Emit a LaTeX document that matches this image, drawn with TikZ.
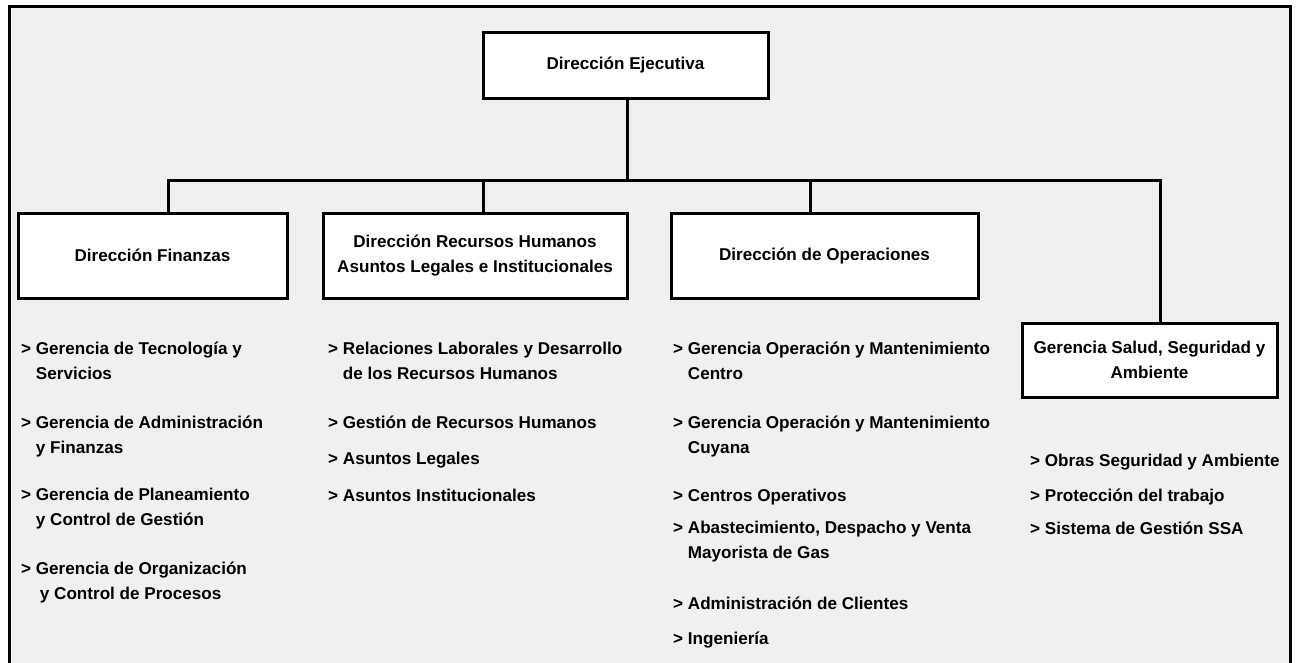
\documentclass[tikz,border=0pt]{standalone}
\usepackage{fontspec}
\setmainfont{Liberation Sans}
\usetikzlibrary{calc}
\definecolor{fondo}{HTML}{F0F0F0}
\newcommand{\sangria}{\hphantom{> }}

\begin{document}
\begin{tikzpicture}[x=1pt,y=-1pt,
  font=\fontsize{17.1}{25}\selectfont\bfseries,
  caja/.style={draw,fill=white,line width=3pt,inner sep=0pt,align=center},
  item/.style={anchor=base west,align=left,inner sep=0pt},
  linea/.style={line width=3pt}]
\useasboundingbox (0,0) rectangle (1296,662);
\clip (0,0) rectangle (1296,662);

% marco
\fill[white] (0,0) rectangle (1296,662);
\fill[fondo] (9,6) rectangle (1290,680);
\draw[linea] (9,680) -- (9,6) -- (1290,6) -- (1290,680);

% cajas
\node[caja,minimum width=285,minimum height=66] (ejec) at (625.5,65) {Dirección Ejecutiva};
\node[caja,minimum width=269,minimum height=85] (fin) at (152.5,255.5) {Dirección Finanzas};
\node[caja,minimum width=304,minimum height=85] (rrhh) at (475,255.5) {Dirección Recursos Humanos\\Asuntos Legales e Institucionales};
\node[caja,minimum width=307,minimum height=85] (oper) at (824.5,255.5) {Dirección de Operaciones};
\node[caja,minimum width=255,minimum height=74] (salud) at (1149.5,360) {Gerencia Salud, Seguridad y\\Ambiente};

% uniones
\coordinate (busI) at (168,180);
\coordinate (busD) at (1160,180);
\coordinate (bajRH) at (483,180);
\coordinate (bajOp) at (810,180);
\draw[linea] (ejec.south -| 627,0) -- (627,180);
\draw[linea] (fin.north -| busI) -- (busI) -- (busD) -- (salud.north -| busD);
\draw[linea] (bajRH) -- (rrhh.north -| bajRH);
\draw[linea] (bajOp) -- (oper.north -| bajOp);

% finanzas (base = ultima linea)
\node[item] (f1) at (21,379) {> Gerencia de Tecnología y\\\sangria Servicios};
\node[item] (f2) at (21,453) {> Gerencia de Administración\\\sangria y Finanzas};
\node[item] (f3) at (21,525) {> Gerencia de Planeamiento\\\sangria y Control de Gestión};
\node[item] (f4) at (21,599) {> Gerencia de Organización\\\sangria\hspace{4pt}y Control de Procesos};

% recursos humanos
\node[item] (r1) at (328,379) {> Relaciones Laborales y Desarrollo\\\sangria de los Recursos Humanos};
\node[item] (r2) at (328,428) {> Gestión de Recursos Humanos};
\node[item] (r3) at (328,464) {> Asuntos Legales};
\node[item] (r4) at (328,501) {> Asuntos Institucionales};

% operaciones
\node[item] (o1) at (673,379) {> Gerencia Operación y Mantenimiento\\\sangria Centro};
\node[item] (o2) at (673,453) {> Gerencia Operación y Mantenimiento\\\sangria Cuyana};
\node[item] (o3) at (673,501) {> Centros Operativos};
\node[item] (o4) at (673,558) {> Abastecimiento, Despacho y Venta\\\sangria Mayorista de Gas};
\node[item] (o5) at (673,609) {> Administración de Clientes};
\node[item] (o6) at (673,644) {> Ingeniería};

% salud
\node[item] (s1) at (1030,466) {> Obras Seguridad y Ambiente};
\node[item] (s2) at (1030,501) {> Protección del trabajo};
\node[item] (s3) at (1030,534) {> Sistema de Gestión SSA};
\end{tikzpicture}
\end{document}
